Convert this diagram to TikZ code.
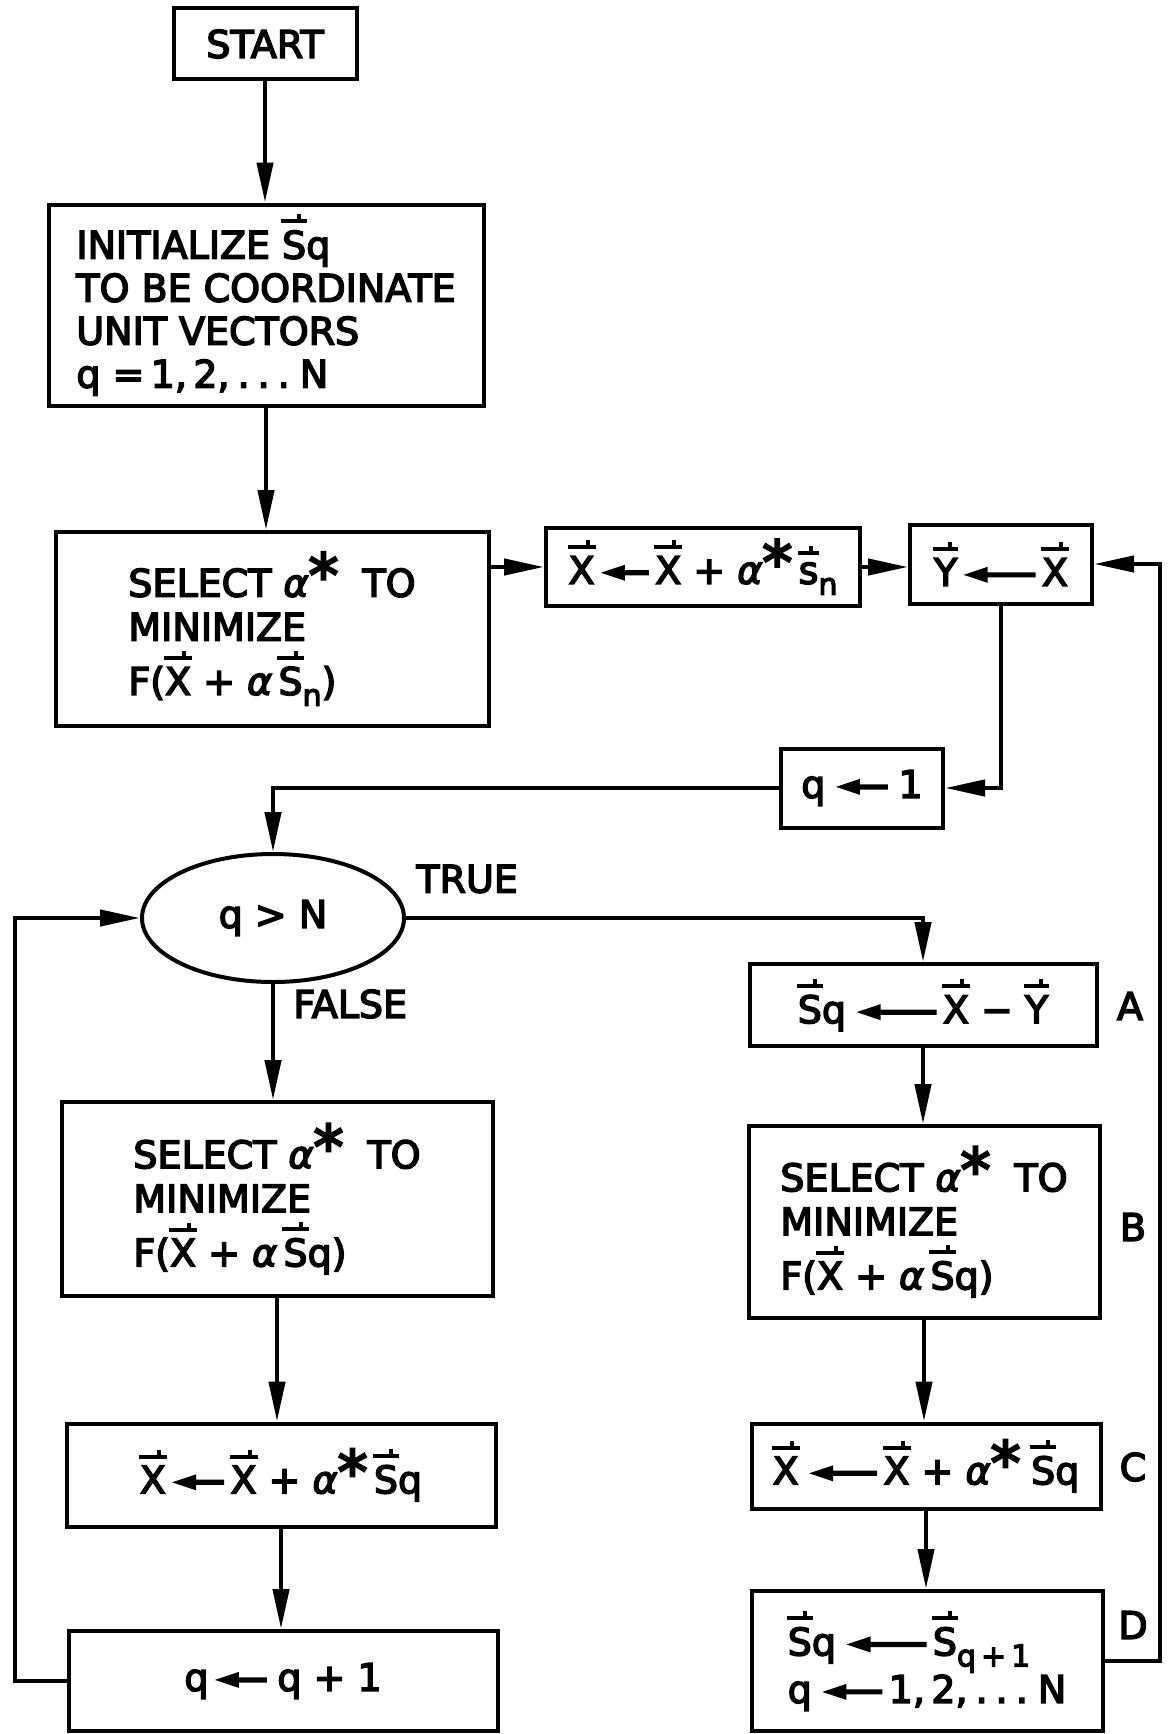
\documentclass[tikz,border=0pt]{standalone}
\usepackage{fontspec}
\setmainfont{DejaVu Sans}[FakeBold=4]
\usetikzlibrary{arrows.meta,shapes.geometric}

\newsavebox{\vvb}
\newcommand{\vv}[1]{\sbox{\vvb}{#1}%
  \makebox[0pt][l]{\hspace{-0.5pt}\raisebox{\dimexpr\ht\vvb+3.5pt\relax}{\rule{\dimexpr\wd\vvb+1pt\relax}{2pt}}}%
  \makebox[0pt][l]{\hspace{\dimexpr\wd\vvb-4.5pt\relax}\raisebox{\dimexpr\ht\vvb+3.5pt\relax}{\rule{2pt}{4.5pt}}}%
  \usebox{\vvb}}
\newcommand{\la}[1][24pt]{\tikz[baseline=0pt]\fill (0pt,5.5pt) -- (12pt,9.5pt) -- (12pt,6.8pt) -- (#1,6.8pt) -- (#1,4.2pt) -- (12pt,4.2pt) -- (12pt,1.5pt) -- cycle;}
\newcommand{\al}{\textit{α}}
\newcommand{\astr}{\raisebox{0pt}{\fontsize{30}{30}\selectfont *}}
\newcommand{\sbs}[1]{\raisebox{-5.5pt}{\fontsize{15}{15}\selectfont #1}}
\newcommand{\bigfont}{\fontsize{19}{22}\selectfont}
\newcommand{\dts}{.\hspace{4pt}.\hspace{4pt}.}

\tikzset{
  box/.style={draw, line width=2pt, inner sep=0pt, font=\bigfont},
  lbl/.style={inner sep=0pt, font=\bigfont},
  arr/.style={line width=2.2pt, -{Triangle[length=20pt,width=8pt]}},
}

\begin{document}
\begin{tikzpicture}[x=0.5pt,y=-0.5pt]
\fill[white] (0,0) rectangle (1172,1734);
\useasboundingbox (0,0) rectangle (1172,1734);

\node[box, minimum width=91.5pt, minimum height=35.5pt] (start) at (265,44) {START};
\node[box, align=left, minimum width=217.5pt, minimum height=100.5pt, font=\fontsize{19}{21.5}\selectfont] (init) at (266,305)
  {INITIALIZE \vv{S}q\\TO BE COORDINATE\\UNIT VECTORS\\q =\,1,\,2,\hspace{4pt}\dts\hspace{5pt}N};
\node[box, align=left, minimum width=216.5pt, minimum height=97pt] (sel1) at (272,629)
  {SELECT\hspace{6pt}\al\astr\hspace{12pt}TO\\MINIMIZE\\[4pt]F(\vv{X} + \al\,\vv{S}\sbs{n})};
\node[box, minimum width=157pt, minimum height=39pt] (x1) at (703,567)
  {\vv{X}\,\la\,\vv{X} + \al\astr\,\vv{s}\sbs{n}};
\node[box, minimum width=91pt, minimum height=39.5pt] (y) at (1001,564)
  {\vv{Y}\,\la[36pt]\,\vv{X}};
\node[box, minimum width=81pt, minimum height=39.5pt] (q1) at (862,788)
  {q\;\la[26pt]\;1};
\node[box, ellipse, minimum width=131pt, minimum height=64pt] (e) at (273,918) {q > N};
\node[box, align=left, minimum width=215.5pt, minimum height=97pt] (sel2) at (277,1199)
  {SELECT\hspace{6pt}\al\astr\hspace{12pt}TO\\MINIMIZE\\[4pt]F(\vv{X} + \al\,\vv{S}q)};
\node[box, minimum width=214.5pt, minimum height=51.5pt] (x2) at (281,1475)
  {\vv{X}\,\la[26pt]\,\vv{X} + \al\astr\,\vv{S}q};
\node[box, minimum width=214.5pt, minimum height=50pt] (q2) at (283,1681)
  {q\,\la[26pt]\;q + 1};
\node[box, minimum width=173.5pt, minimum height=41pt] (a) at (923,1005)
  {\vv{S}q\;\la[40pt]\,\vv{X} − \vv{Y}};
\node[box, align=left, minimum width=175.5pt, minimum height=96pt] (b) at (924,1222)
  {SELECT\hspace{6pt}\al\astr\hspace{12pt}TO\\MINIMIZE\\[4pt]F(\vv{X} + \al\,\vv{S}q)};
\node[box, minimum width=174.5pt, minimum height=42.5pt] (c) at (926,1466)
  {\vv{X}\;\la[34pt]\,\vv{X} + \al\astr\;\vv{S}q};
\node[box, align=left, minimum width=175.5pt, minimum height=70pt] (d) at (927,1661)
  {\vv{S}q\;\la[40pt]\,\vv{S}\sbs{q\,+\,1}\\q\;\la[30pt]\,1,\,2,\hspace{4pt}\dts\hspace{5pt}N};

\node[lbl, anchor=west] (true) at (416,879) {TRUE};
\node[lbl, anchor=west] (false) at (293,1004) {FALSE};
\node[lbl] (la) at (1130,1006) {A};
\node[lbl] (lb) at (1133,1227) {B};
\node[lbl] (lc) at (1133,1467) {C};
\node[lbl] (ld) at (1133,1625) {D};

\coordinate (L) at (15,918);
\coordinate (R) at (1160,564);

\draw[arr] (start.south) -- (start.south |- init.north);
\draw[arr] (init.south) -- (init.south |- sel1.north);
\draw[arr] (x1.west -| sel1.east) -- (x1.west);
\draw[arr] (x1.east) -- (x1.east -| y.west);
\draw[arr] (y.south) |- (q1.east);
\draw[arr] (q1.west) -| (e.north);
\draw[arr] (e.east) -| (a.north);
\draw[arr] (e.south) -- (e.south |- sel2.north);
\draw[arr] (sel2.south) -- (sel2.south |- x2.north);
\draw[arr] (x2.south) -- (x2.south |- q2.north);
\draw[arr] (q2.west) -| (L) -- (e.west);
\draw[arr] (a.south) -- (a.south |- b.north);
\draw[arr] (b.south) -- (b.south |- c.north);
\draw[arr] (c.south) -- (c.south |- d.north);
\draw[arr] (d.east) -| (R) -- (y.east);
\end{tikzpicture}
\end{document}
